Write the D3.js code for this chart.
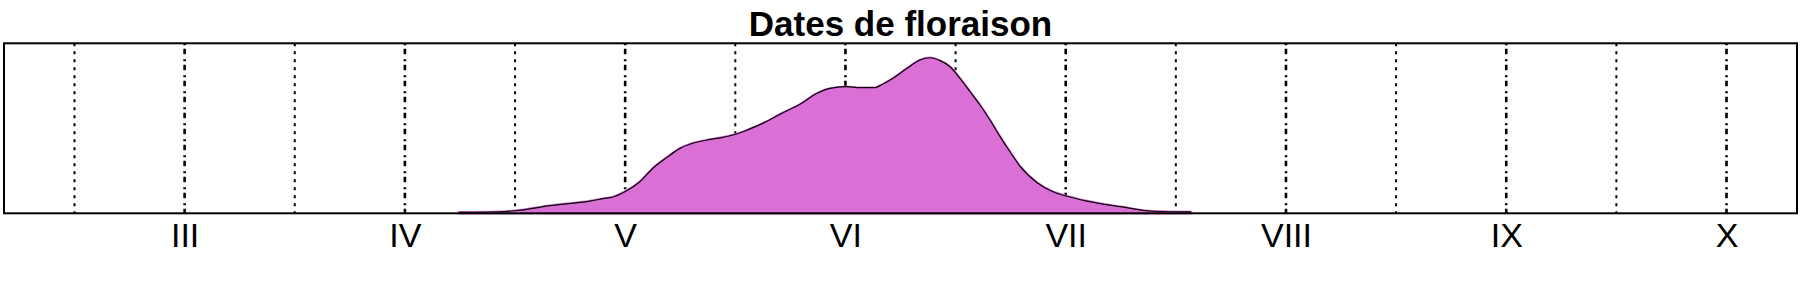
<!DOCTYPE html>
<html>
<head>
<meta charset="utf-8">
<script src="https://cdn.jsdelivr.net/npm/d3@7"></script>
<style>
  body { margin: 0; background: #fff; }
  svg { display: block; font-family: "Liberation Sans", Arial, sans-serif; }
</style>
</head>
<body>
<svg id="chart" width="1800" height="300"></svg>
<script>
// flowering month (decimal month) and estimated density
const months = [4.246, 4.423, 4.500, 4.659, 4.840, 4.899, 4.945, 4.999, 5.067, 5.126, 5.190,
  5.249, 5.308, 5.372, 5.444, 5.503, 5.562, 5.644, 5.717, 5.794, 5.871, 5.930, 6.003, 6.066,
  6.134, 6.157, 6.216, 6.280, 6.339, 6.384, 6.429, 6.475, 6.520, 6.566, 6.611, 6.656, 6.702,
  6.747, 6.793, 6.870, 6.942, 7.001, 7.097, 7.247, 7.396, 7.569];
const density = [0.006, 0.009, 0.015, 0.045, 0.072, 0.086, 0.096, 0.127, 0.186, 0.265, 0.329,
  0.382, 0.412, 0.431, 0.447, 0.465, 0.494, 0.541, 0.592, 0.641, 0.706, 0.735, 0.745, 0.739,
  0.739, 0.751, 0.794, 0.853, 0.902, 0.915, 0.898, 0.862, 0.794, 0.715, 0.637, 0.549, 0.451,
  0.362, 0.276, 0.180, 0.127, 0.102, 0.072, 0.039, 0.012, 0.008];

const monthTicks = [3, 4, 5, 6, 7, 8, 9, 10];
const monthLabels = ["III", "IV", "V", "VI", "VII", "VIII", "IX", "X"];
const halfMonths = [2.5, 3.5, 4.5, 5.5, 6.5, 7.5, 8.5, 9.5];

const svg = d3.select("#chart");
const box = { left: 4, right: 1797, top: 43.3, bottom: 213.3 };

const x = d3.scaleLinear().domain([2.18, 10.32]).range([box.left, box.right]);
const y = d3.scaleLinear().domain([0, 1]).range([box.bottom, box.top]);

// grid lines: dotted at half months, dot-dash at months
svg.append("g")
    .selectAll("line")
    .data(halfMonths)
    .enter().append("line")
    .attr("x1", (d) => x(d)).attr("x2", (d) => x(d))
    .attr("y1", box.top).attr("y2", box.bottom)
    .attr("stroke", "#000")
    .attr("stroke-width", 2)
    .attr("stroke-dasharray", "3,5");

svg.append("g")
    .selectAll("line")
    .data(monthTicks)
    .enter().append("line")
    .attr("x1", (d) => x(d)).attr("x2", (d) => x(d))
    .attr("y1", box.top).attr("y2", box.bottom)
    .attr("stroke", "#000")
    .attr("stroke-width", 2.6)
    .attr("stroke-dasharray", "2,3.5,5.5,5");

// density polygon
const pts = months.map((m, i) => [m, density[i]]);

const area = d3.area()
    .x((d) => x(d[0]))
    .y0(y(0))
    .y1((d) => y(d[1]))
    .curve(d3.curveMonotoneX);

const line = d3.line()
    .x((d) => x(d[0]))
    .y((d) => y(d[1]))
    .curve(d3.curveMonotoneX);

svg.append("path")
    .datum(pts)
    .attr("d", area)
    .attr("fill", "orchid")
    .attr("stroke", "orchid")
    .attr("stroke-width", 2.5);

svg.append("path")
    .datum(pts)
    .attr("d", line)
    .attr("fill", "none")
    .attr("stroke", "#000")
    .attr("stroke-width", 1.2);

// frame
svg.append("rect")
    .attr("x", box.left).attr("y", box.top)
    .attr("width", box.right - box.left)
    .attr("height", box.bottom - box.top)
    .attr("fill", "none")
    .attr("stroke", "#000")
    .attr("stroke-width", 2);

// month labels
const axis = d3.axisBottom(x)
    .tickValues(monthTicks)
    .tickFormat((d, i) => monthLabels[i])
    .tickSize(0)
    .tickPadding(10);

svg.append("g")
    .attr("transform", "translate(0," + box.bottom + ")")
    .call(axis)
    .call((g) => g.select(".domain").remove())
    .selectAll("text")
    .attr("font-size", 34)
    .attr("font-family", "'Liberation Sans', Arial, sans-serif")
    .attr("fill", "#000");

// title
svg.append("text")
    .attr("x", (box.left + box.right) / 2)
    .attr("y", 36)
    .attr("text-anchor", "middle")
    .attr("font-size", 35)
    .attr("font-weight", "bold")
    .text("Dates de floraison");
</script>
</body>
</html>
